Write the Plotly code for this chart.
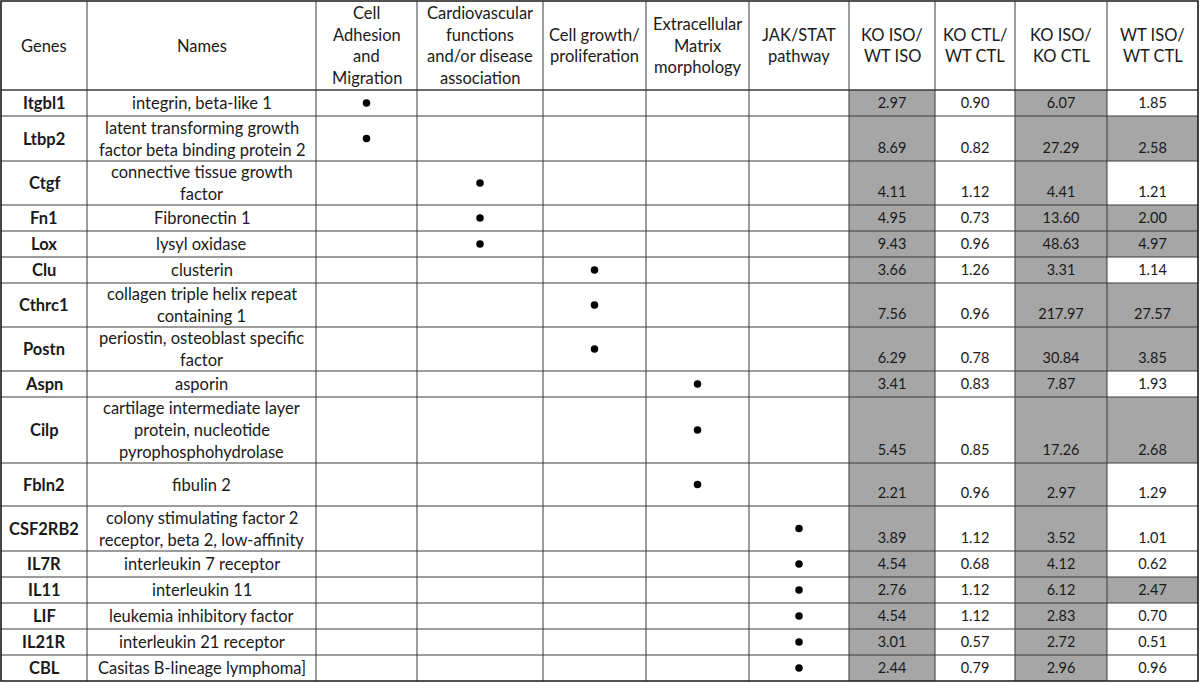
import plotly.graph_objects as go

# ---------------- data ----------------
header_labels = [
    "Genes", "Names",
    "Cell<br>Adhesion<br>and<br>Migration",
    "Cardiovascular<br>functions<br>and/or disease<br>association",
    "Cell growth/<br>proliferation",
    "Extracellular<br>Matrix<br>morphology",
    "JAK/STAT<br>pathway",
    "KO ISO/<br>WT ISO", "KO CTL/<br>WT CTL", "KO ISO/<br>KO CTL", "WT ISO/<br>WT CTL",
]
genes = ["Itgbl1", "Ltbp2", "Ctgf", "Fn1", "Lox", "Clu", "Cthrc1", "Postn", "Aspn",
         "Cilp", "Fbln2", "CSF2RB2", "IL7R", "IL11", "LIF", "IL21R", "CBL"]
names = [
    "integrin, beta-like 1",
    "latent transforming growth<br>factor beta binding protein 2",
    "connective tissue growth<br>factor",
    "Fibronectin 1",
    "lysyl oxidase",
    "clusterin",
    "collagen triple helix repeat<br>containing 1",
    "periostin, osteoblast specific<br>factor",
    "asporin",
    "cartilage intermediate layer<br>protein, nucleotide<br>pyrophosphohydrolase",
    "fibulin 2",
    "colony stimulating factor 2<br>receptor, beta 2, low-affinity",
    "interleukin 7 receptor",
    "interleukin 11",
    "leukemia inhibitory factor",
    "interleukin 21 receptor",
    "Casitas B-lineage lymphoma]",
]
# index of the category column (0..4) marked with a dot for each gene
gene_category = [0, 0, 1, 1, 1, 2, 2, 2, 3, 3, 3, 4, 4, 4, 4, 4, 4]
ko_iso_wt_iso = [2.97, 8.69, 4.11, 4.95, 9.43, 3.66, 7.56, 6.29, 3.41, 5.45, 2.21, 3.89, 4.54, 2.76, 4.54, 3.01, 2.44]
ko_ctl_wt_ctl = [0.90, 0.82, 1.12, 0.73, 0.96, 1.26, 0.96, 0.78, 0.83, 0.85, 0.96, 1.12, 0.68, 1.12, 1.12, 0.57, 0.79]
ko_iso_ko_ctl = [6.07, 27.29, 4.41, 13.60, 48.63, 3.31, 217.97, 30.84, 7.87, 17.26, 2.97, 3.52, 4.12, 6.12, 2.83, 2.72, 2.96]
wt_iso_wt_ctl = [1.85, 2.58, 1.21, 2.00, 4.97, 1.14, 27.57, 3.85, 1.93, 2.68, 1.29, 1.01, 0.62, 2.47, 0.70, 0.51, 0.96]
ratio_columns = [ko_iso_wt_iso, ko_ctl_wt_ctl, ko_iso_ko_ctl, wt_iso_wt_ctl]
highlight_threshold = 2.0

# ---------------- layout / style ----------------
W, H = 1200, 683
col_edges = [1, 87, 316, 417, 543, 646, 749, 849, 935, 1015, 1107, 1198]
top = 1
header_h = 89
row_heights = [26, 45, 44, 26, 26, 26, 44, 44, 26, 66, 43, 45, 26, 26, 26, 26, 26]
FONT = "Lato"
FS = 16.5
FS_NUM = 14.5
TXT = "#1a1a1a"
LINE = "#3a3a3a"
SHADE = "#a6a6a6"

row_edges = [top + header_h]
for h in row_heights:
    row_edges.append(row_edges[-1] + h)
bottom = row_edges[-1]
col_cx = [(col_edges[i] + col_edges[i + 1]) / 2 for i in range(len(col_edges) - 1)]
row_cy = [(row_edges[i] + row_edges[i + 1]) / 2 for i in range(len(row_heights))]

fig = go.Figure()
shapes = []
annotations = []

# shaded cells
for j, col in enumerate(ratio_columns):
    c = 7 + j
    for i, v in enumerate(col):
        if v >= highlight_threshold:
            shapes.append(dict(type="rect", xref="x", yref="y",
                               x0=col_edges[c], x1=col_edges[c + 1],
                               y0=row_edges[i], y1=row_edges[i + 1],
                               fillcolor=SHADE, line=dict(width=0), layer="below"))

# grid lines
for x in col_edges[1:-1]:
    shapes.append(dict(type="line", xref="x", yref="y", x0=x, x1=x, y0=top, y1=bottom,
                       line=dict(color=LINE, width=1)))
for k, y in enumerate(row_edges[:-1]):
    shapes.append(dict(type="line", xref="x", yref="y", x0=col_edges[0], x1=col_edges[-1],
                       y0=y, y1=y, line=dict(color=LINE, width=1.6 if k == 0 else 1)))
shapes.append(dict(type="rect", xref="x", yref="y", x0=col_edges[0], x1=col_edges[-1],
                   y0=top, y1=bottom, line=dict(color="#1a1a1a", width=1.6)))


def add_lines(text, cx, cy, spacing, bold=False):
    lines = text.split("<br>")
    n = len(lines)
    for k, ln in enumerate(lines):
        y = cy + (k - (n - 1) / 2) * spacing
        annotations.append(dict(x=cx, y=y, xref="x", yref="y", showarrow=False,
                                text=f"<b>{ln}</b>" if bold else ln,
                                xanchor="center", yanchor="middle",
                                font=dict(family=FONT, size=FS, color=TXT)))


# header
header_cy = top + header_h / 2
for c, lab in enumerate(header_labels):
    add_lines(lab, col_cx[c], header_cy, 21.5)

# genes and names
for i in range(len(genes)):
    add_lines(genes[i], col_cx[0], row_cy[i], 22, bold=True)
    add_lines(names[i], col_cx[1], row_cy[i], 22)

# dots
fig.add_trace(go.Scatter(
    x=[col_cx[2 + g] for g in gene_category],
    y=row_cy,
    mode="markers",
    marker=dict(color="black", size=7.5),
    hoverinfo="skip", showlegend=False,
))

# ratio values (bottom aligned in their cells)
for j, col in enumerate(ratio_columns):
    c = 7 + j
    fig.add_trace(go.Scatter(
        x=[col_cx[c]] * len(col),
        y=[row_edges[i + 1] - 12 for i in range(len(col))],
        mode="text",
        text=[f"{v:.2f}" for v in col],
        textposition="middle center",
        textfont=dict(family=FONT, size=FS_NUM, color=TXT),
        hoverinfo="skip", showlegend=False,
    ))

fig.update_layout(
    width=W, height=H, autosize=False,
    margin=dict(l=0, r=0, t=0, b=0),
    paper_bgcolor="white", plot_bgcolor="white",
    xaxis=dict(range=[0, W], visible=False, fixedrange=True),
    yaxis=dict(range=[H, 0], visible=False, fixedrange=True),
    shapes=shapes, annotations=annotations,
    showlegend=False,
)

fig.write_html("out.html", post_script="document.body.style.margin='0';",
               config={"displayModeBar": False})
